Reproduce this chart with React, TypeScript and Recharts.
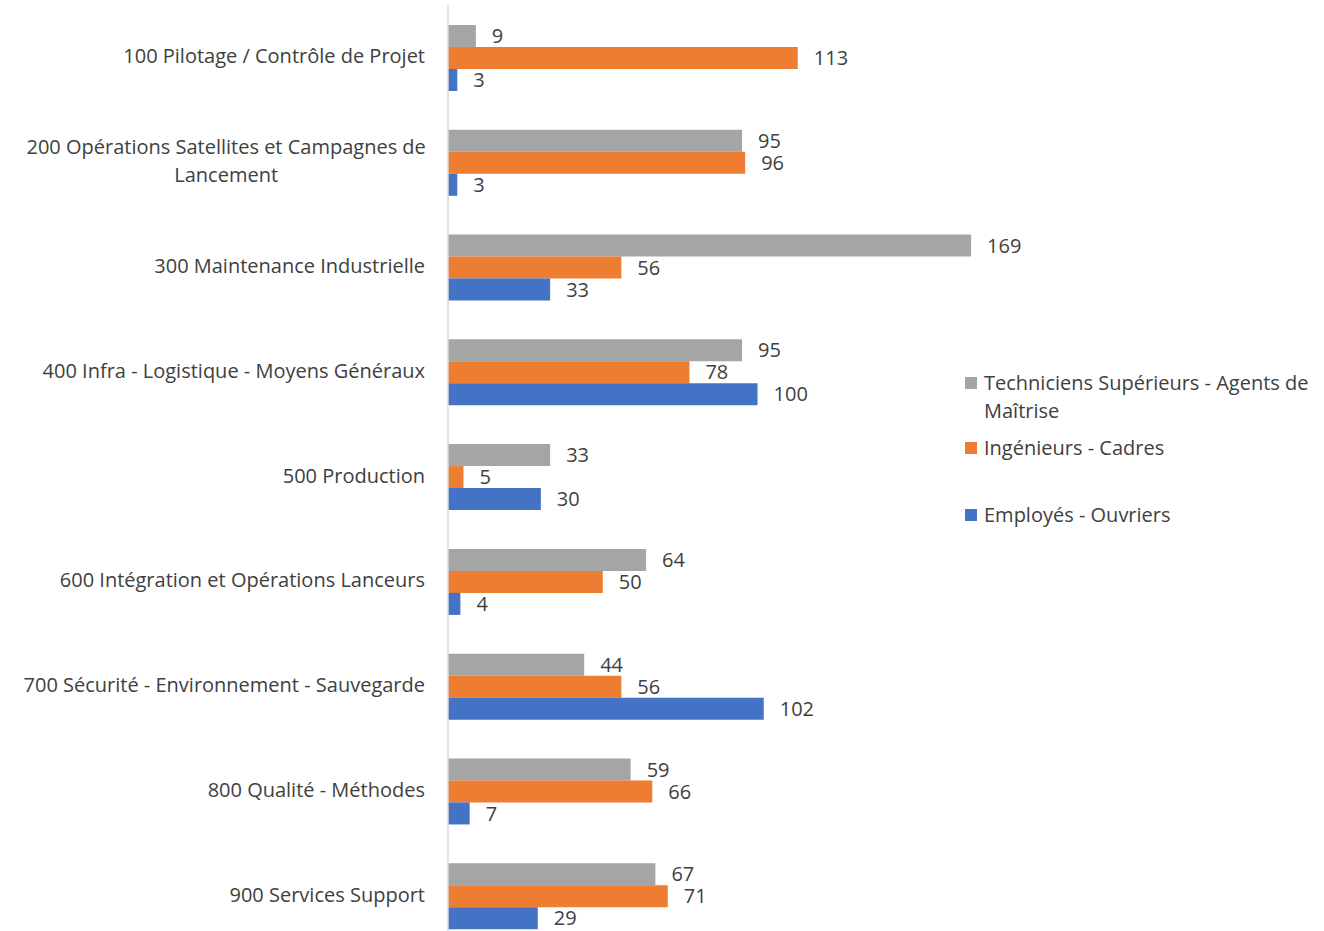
import React from 'react';
import { BarChart, Bar, XAxis, YAxis, Legend, LabelList } from 'recharts';

// Catégories (de haut en bas)
const CATEGORIES = [
  '100 Pilotage / Contrôle de Projet',
  '200 Opérations Satellites et Campagnes de Lancement',
  '300 Maintenance Industrielle',
  '400 Infra - Logistique - Moyens Généraux',
  '500 Production',
  '600 Intégration et Opérations Lanceurs',
  '700 Sécurité - Environnement - Sauvegarde',
  '800 Qualité - Méthodes',
  '900 Services Support',
];

const TECHNICIENS = [9, 95, 169, 95, 33, 64, 44, 59, 67];
const INGENIEURS = [113, 96, 56, 78, 5, 50, 56, 66, 71];
const EMPLOYES = [3, 3, 33, 100, 30, 4, 102, 7, 29];

const SERIES_NAMES = ['Techniciens Supérieurs - Agents de Maîtrise', 'Ingénieurs - Cadres', 'Employés - Ouvriers'];
const COLORS = ['#A5A5A5', '#ED7D31', '#4472C4'];

const FONT = '"Open Sans", Lato, sans-serif';
const TEXT_COLOR = '#404040';

const data = CATEGORIES.map((cat, i) => ({
  categorie: cat,
  tech: TECHNICIENS[i],
  ing: INGENIEURS[i],
  emp: EMPLOYES[i],
}));

// coupe le libellé en lignes (comme Excel)
const wrapLabel = (text: string, maxChars: number) => {
  const words = text.split(' ');
  const lines: string[] = [];
  let current = '';
  words.forEach(w => {
    const next = current ? current + ' ' + w : w;
    if (next.length > maxChars && current) {
      lines.push(current);
      current = w;
    } else {
      current = next;
    }
  });
  if (current) lines.push(current);
  return lines;
};

const CategoryTick = (props: any) => {
  const { x, y, payload } = props;
  const lines = wrapLabel(payload.value, 42);
  const lineHeight = 28;
  const y0 = y - 1 - ((lines.length - 1) * lineHeight) / 2;
  if (lines.length === 1) {
    return (
      <text x={x} y={y - 1} dy="0.35em" textAnchor="end" fontSize={20} fontFamily={FONT} fill={TEXT_COLOR}>
        {lines[0]}
      </text>
    );
  }
  const longest = Math.max(...lines.map(l => l.length));
  const cx = x - (longest * 9.7) / 2;
  return (
    <text textAnchor="middle" fontSize={20} fontFamily={FONT} fill={TEXT_COLOR}>
      {lines.map((l, i) => (
        <tspan key={i} x={cx} y={y0 + i * lineHeight} dy="0.35em">{l}</tspan>
      ))}
    </text>
  );
};

const LegendContent = () => {
  const gaps = [0, 9, 39];
  return (
    <div style={{ fontFamily: FONT, fontSize: 20, color: TEXT_COLOR, lineHeight: '28px' }}>
      {SERIES_NAMES.map((name, i) => {
        const lines = i === 0 ? ['Techniciens Supérieurs - Agents de', 'Maîtrise'] : [name];
        return (
          <div key={name} style={{ display: 'flex', alignItems: 'flex-start', marginTop: gaps[i] }}>
            <span style={{ width: 12, height: 12, background: COLORS[i], marginTop: 8, marginRight: 7, flexShrink: 0 }} />
            <div>
              {lines.map(l => <div key={l} style={{ whiteSpace: 'nowrap' }}>{l}</div>)}
            </div>
          </div>
        );
      })}
    </div>
  );
};

export default function App() {
  return (
    <div style={{ position: 'absolute', top: 0, left: 0, width: 1324, height: 931, overflow: 'hidden', background: '#fff' }}>
      <BarChart
        width={1324}
        height={948}
        data={data}
        layout="vertical"
        margin={{ top: 5, right: 0, left: 0, bottom: 0 }}
        barCategoryGap={20}
        barGap={0}
      >
        <XAxis type="number" domain={[0, 283]} hide />
        <YAxis
          type="category"
          dataKey="categorie"
          width={448}
          axisLine={{ stroke: '#D9D9D9', strokeWidth: 1.5 }}
          tickLine={false}
          tickSize={0}
          tickMargin={23}
          tick={<CategoryTick />}
          interval={0}
        />
        <Legend
          layout="vertical"
          align="center"
          verticalAlign="middle"
          wrapperStyle={{ left: 965, top: 369, width: 359 }}
          content={<LegendContent />}
        />
        <Bar dataKey="tech" name={SERIES_NAMES[0]} fill={COLORS[0]} isAnimationActive={false}>
          <LabelList dataKey="tech" position="right" offset={16} fontSize={20} fontFamily={FONT} fill={TEXT_COLOR} />
        </Bar>
        <Bar dataKey="ing" name={SERIES_NAMES[1]} fill={COLORS[1]} isAnimationActive={false}>
          <LabelList dataKey="ing" position="right" offset={16} fontSize={20} fontFamily={FONT} fill={TEXT_COLOR} />
        </Bar>
        <Bar dataKey="emp" name={SERIES_NAMES[2]} fill={COLORS[2]} isAnimationActive={false}>
          <LabelList dataKey="emp" position="right" offset={16} fontSize={20} fontFamily={FONT} fill={TEXT_COLOR} />
        </Bar>
      </BarChart>
    </div>
  );
}
